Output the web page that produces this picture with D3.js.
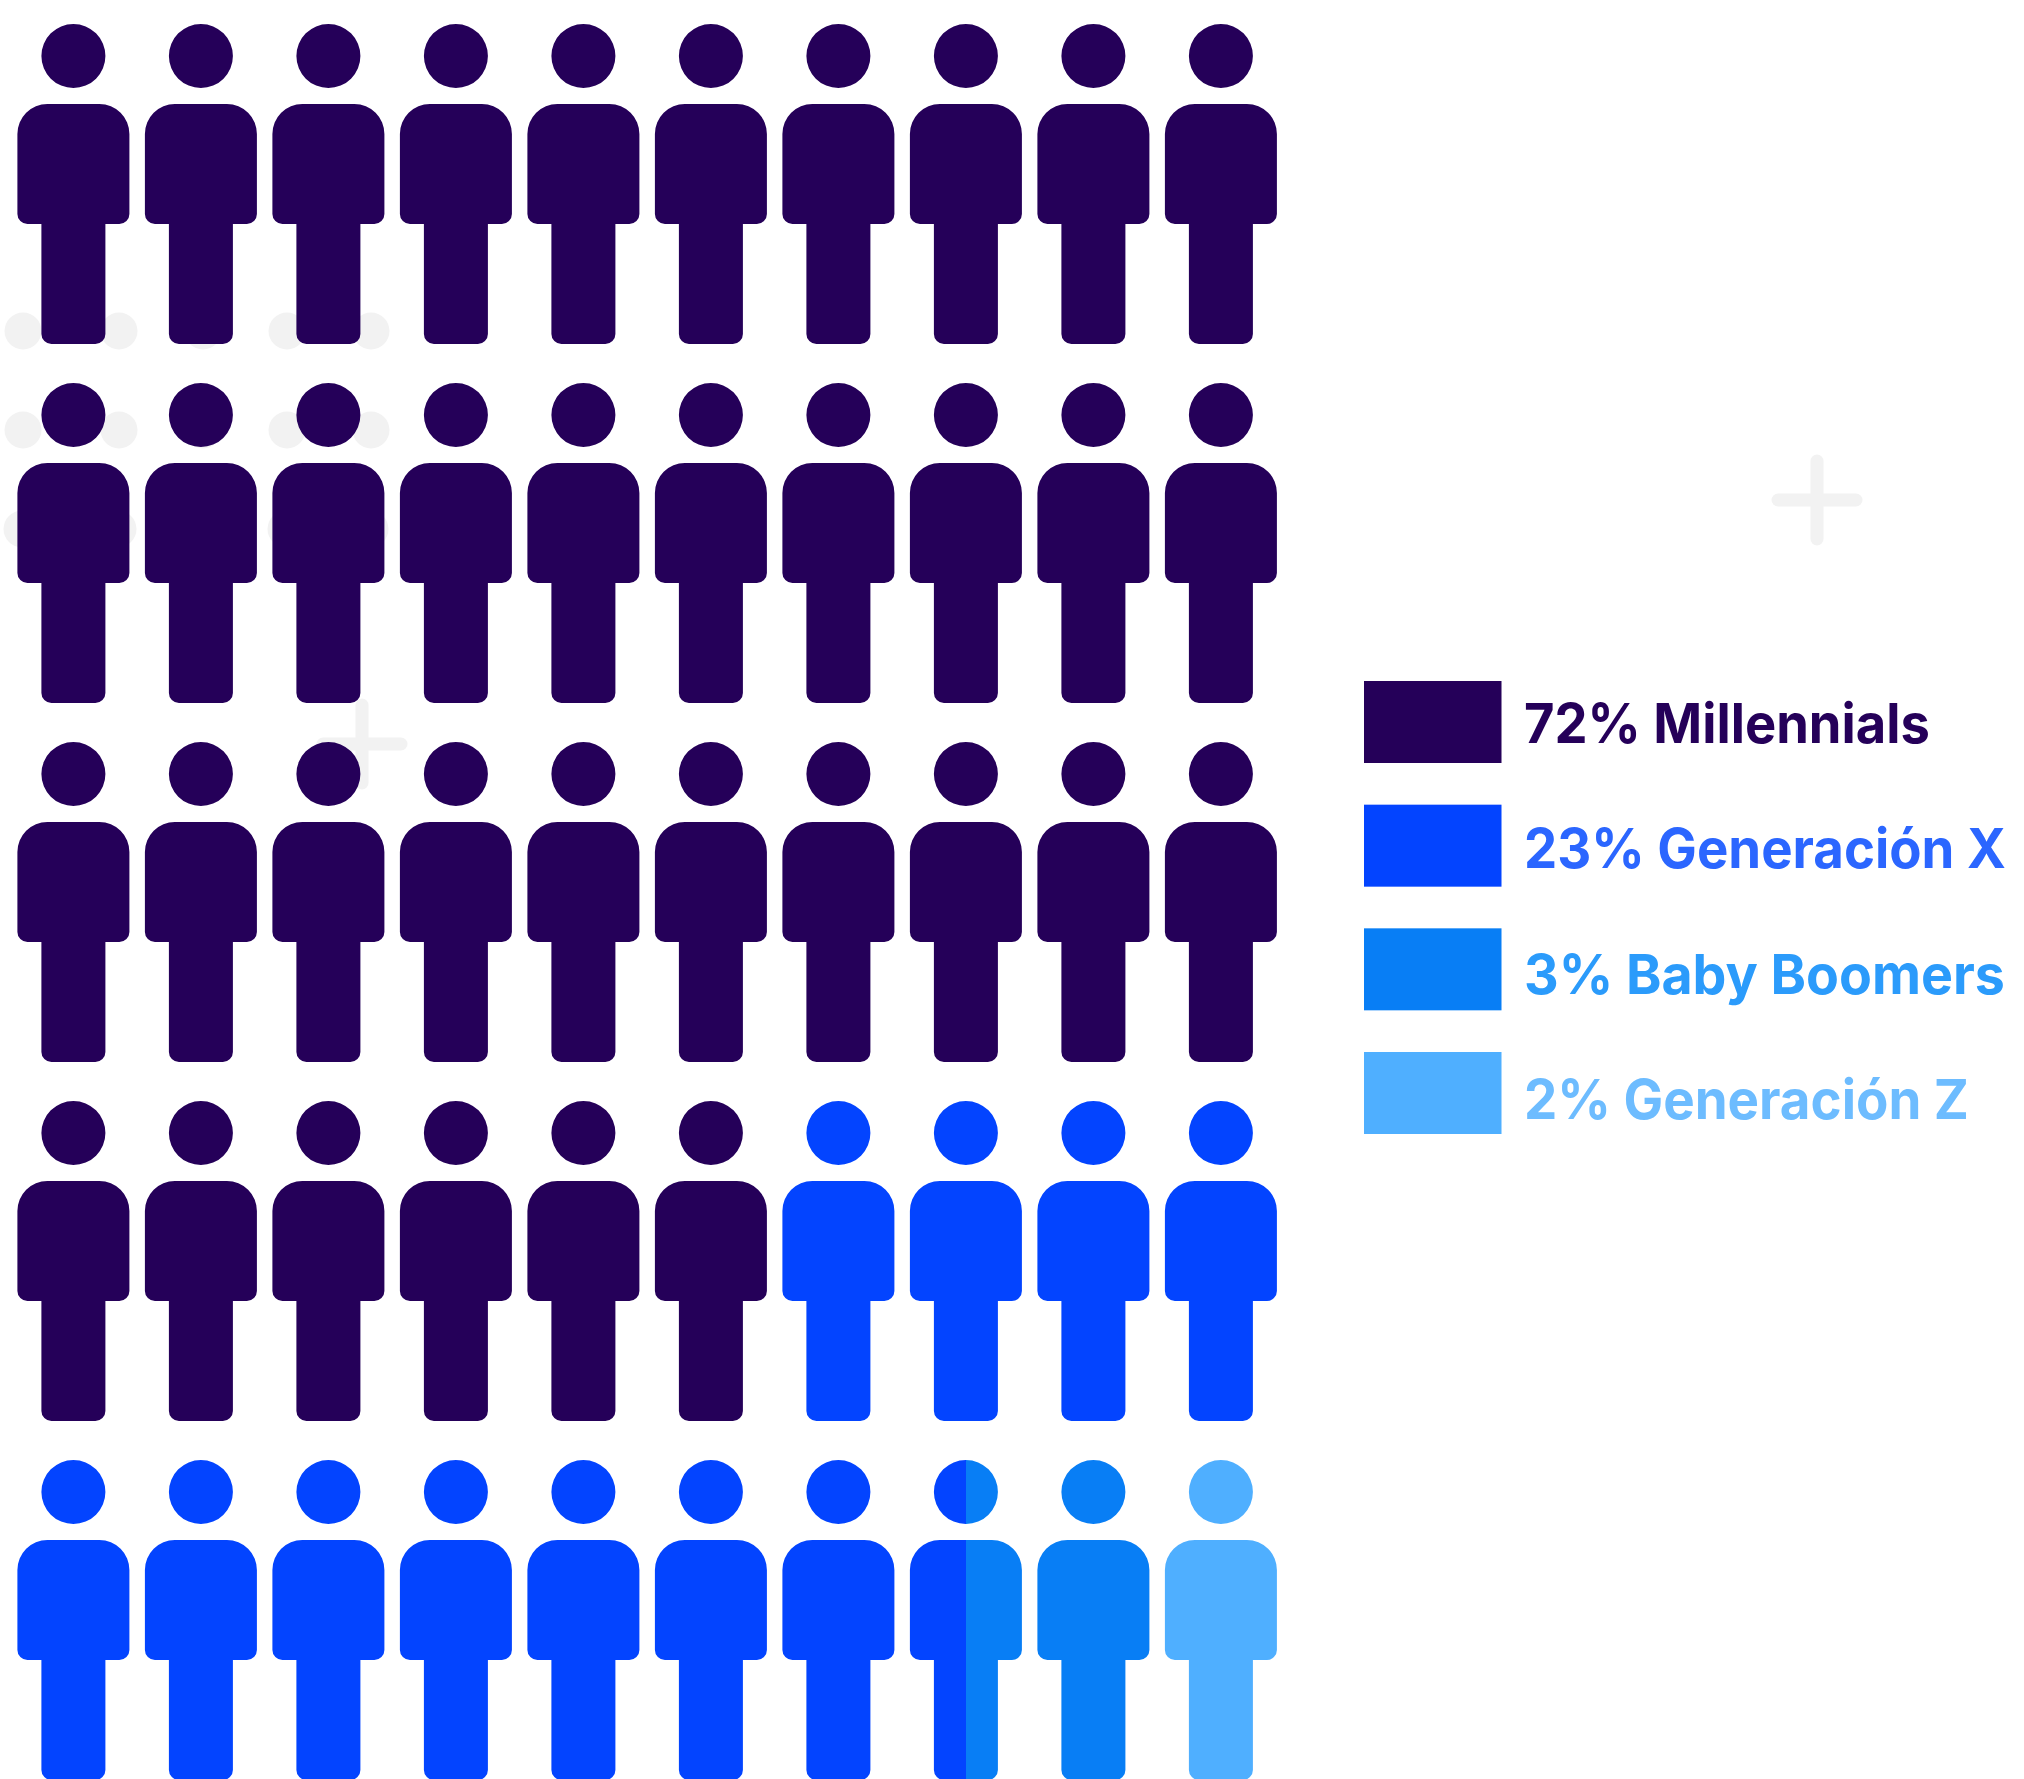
<!DOCTYPE html>
<html>
<head>
<meta charset="utf-8">
<script src="https://cdn.jsdelivr.net/npm/d3@7"></script>
<style>
html,body{margin:0;padding:0;background:#fff;overflow:hidden}
svg{display:block}
</style>
</head>
<body>
<div id="chart"></div>
<script>
const categories = ["Millennials", "Generación X", "Baby Boomers", "Generación Z"];
const shares = [72, 23, 3, 2];
const swatchColors = ["#250059", "#0344ff", "#087ef5", "#4fafff"];
const textColors = ["#250059", "#2b66ff", "#2b9bfb", "#6dbcff"];
const peopleTotal = 50;
const peoplePerRow = 10;

const W = 2024, H = 1779;
const svg = d3.select("#chart").append("svg").attr("width", W).attr("height", H);

// faint background decoration
const deco = svg.append("g").attr("fill", "#f2f2f2");
[[23,331],[119,331],[203,331],[287,331],[371,331],
 [23,430],[119,430],[203,430],[287,430],[371,430],
 [22,529],[118,529],[202,529],[286,529],[370,529]].forEach(([x,y]) =>
  deco.append("circle").attr("cx", x).attr("cy", y).attr("r", 18.5));
[[362,744],[1817,500]].forEach(([x,y]) => {
  const g = svg.append("g").attr("stroke", "#f2f2f2").attr("stroke-width", 13).attr("stroke-linecap", "round");
  g.append("line").attr("x1", x).attr("x2", x).attr("y1", y-39).attr("y2", y+39);
  g.append("line").attr("x1", x-39).attr("x2", x+39).attr("y1", y).attr("y2", y);
});

// scales
const colX = d3.scaleLinear().domain([0, peoplePerRow - 1]).range([73.4, 1220.9]);
const rowY = d3.scaleLinear().domain([0, peopleTotal / peoplePerRow - 1]).range([56, 1492]);
const toPeople = d3.scaleLinear().domain([0, d3.sum(shares)]).range([0, peopleTotal]);

// person glyph, local coordinates: origin at head centre
function personPath() {
  const p = d3.path();
  const bw = 56, lw = 32, top = 48, sh = 168, bot = 288, R = 30, r = 10;
  p.moveTo(-bw + R, top);
  p.lineTo(bw - R, top);
  p.arcTo(bw, top, bw, top + R, R);
  p.lineTo(bw, sh - r);
  p.arcTo(bw, sh, bw - r, sh, r);
  p.lineTo(lw, sh);
  p.lineTo(lw, bot - r);
  p.arcTo(lw, bot, lw - r, bot, r);
  p.lineTo(-lw + r, bot);
  p.arcTo(-lw, bot, -lw, bot - r, r);
  p.lineTo(-lw, sh);
  p.lineTo(-bw + r, sh);
  p.arcTo(-bw, sh, -bw, sh - r, r);
  p.lineTo(-bw, top + R);
  p.arcTo(-bw, top, -bw + R, top, R);
  p.closePath();
  p.moveTo(32, 0);
  p.arc(0, 0, 32, 0, 2 * Math.PI);
  p.closePath();
  return p.toString();
}
const glyph = personPath();

// Cumulative breaks in person units; each person holds one or more fill pieces.
const breaks = d3.cumsum(shares).map(toPeople);
const pieces = [];
d3.range(peopleTotal).forEach(i => {
  categories.forEach((c, k) => {
    const a = k ? breaks[k - 1] : 0, b = breaks[k];
    const f0 = Math.max(a, i), f1 = Math.min(b, i + 1);
    if (f1 > f0) pieces.push({ i, k, f0: f0 - i, f1: f1 - i });
  });
});

const defs = svg.append("defs");
const half = 60;
pieces.forEach((d, n) => {
  if (d.f1 - d.f0 < 1) {
    d.clip = "clip" + n;
    defs.append("clipPath").attr("id", d.clip).append("rect")
      .attr("x", -half + d.f0 * 2 * half).attr("y", -40)
      .attr("width", (d.f1 - d.f0) * 2 * half).attr("height", 340);
  }
});

svg.append("g").selectAll("path").data(pieces).join("path")
  .attr("transform", d => `translate(${colX(d.i % peoplePerRow)},${rowY(Math.floor(d.i / peoplePerRow))})`)
  .attr("d", glyph)
  .attr("fill", d => swatchColors[d.k])
  .attr("clip-path", d => d.clip ? `url(#${d.clip})` : null);

// legend
const legY = d3.scaleLinear().domain([0, categories.length - 1]).range([681, 1052]);
const baseY = d3.scaleLinear().domain([0, categories.length - 1]).range([743, 1119]);
const textRight = [1930, 2006, 2005, 1969];
const textLeft = 1524;
const leg = svg.append("g");
leg.selectAll("rect").data(categories).join("rect")
  .attr("x", 1364).attr("y", (d, i) => legY(i)).attr("width", 137.5).attr("height", 82)
  .attr("fill", (d, i) => swatchColors[i]);
leg.selectAll("text").data(categories).join("text")
  .attr("font-family", "Inter, 'Noto Sans', sans-serif")
  .attr("font-weight", 700).attr("font-size", 55)
  .attr("fill", (d, i) => textColors[i])
  .text((d, i) => `${shares[i]}% ${d}`)
  .attr("transform", function (d, i) {
    const sx = (textRight[i] - textLeft) / this.getComputedTextLength();
    return `translate(${textLeft},${baseY(i)}) scale(${sx},1)`;
  });
</script>
</body>
</html>
